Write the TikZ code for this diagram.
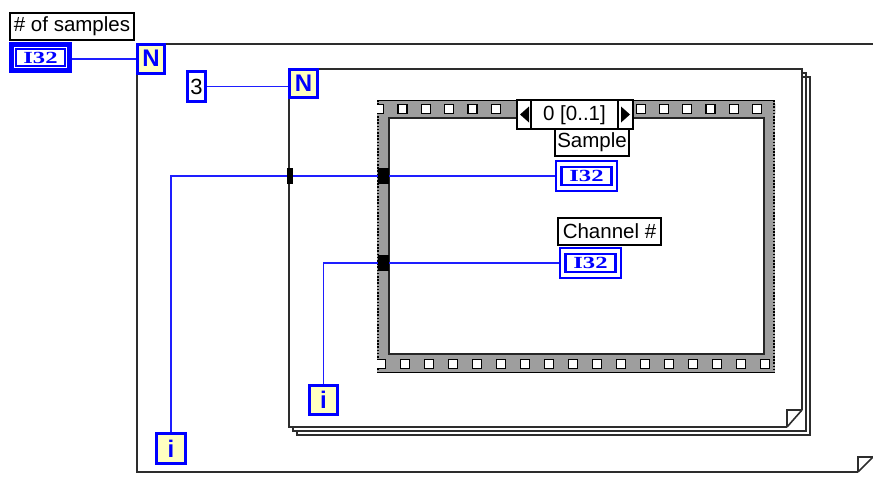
\documentclass[tikz,border=0pt]{standalone}
\usepackage{fontspec}
\setmainfont{Liberation Sans}
\newfontfamily\lvserif{Liberation Serif}
\usetikzlibrary{calc}
\definecolor{lvblue}{RGB}{0,0,255}
\definecolor{wireblue}{RGB}{30,30,255}
\definecolor{lvyellow}{RGB}{255,255,192}
\definecolor{seqgray}{RGB}{158,158,158}
\definecolor{framegray}{RGB}{45,45,45}
\newcommand{\ithreetwo}{\scalebox{1.45}[1]{\fontsize{17}{17}\selectfont\lvserif\bfseries\color{lvblue}I32}}
\begin{document}
\begin{tikzpicture}[x=1pt,y=-1pt,
  lbl/.style={draw=black, line width=1.4, fill=white, inner sep=0, font=\fontsize{20.5}{24}\selectfont},
  term/.style={draw=lvblue, line width=3, fill=lvyellow, inner sep=0, font=\fontsize{24}{26}\selectfont\bfseries\color{lvblue}},
  const/.style={draw=lvblue, line width=3, fill=white, inner sep=0, font=\fontsize{22}{24}\selectfont},
  ctrl/.style={draw=lvblue, line width=5, fill=white, minimum width=58, minimum height=26, inner sep=0,
    path picture={\draw[lvblue,line width=1.5] ([shift={(-24.5,-8.5)}]path picture bounding box.center) rectangle ([shift={(24.5,8.5)}]path picture bounding box.center);}},
  ind/.style={draw=lvblue, line width=1.6, fill=white, minimum width=61.4, minimum height=30.4, inner sep=0,
    path picture={\draw[lvblue,line width=2.5] ([shift={(-25,-9)}]path picture bounding box.center) rectangle ([shift={(25,9)}]path picture bounding box.center);}},
  tunnel/.style={fill=black, draw=none, inner sep=0},
  wire/.style={wireblue, line width=1.5},
  loopframe/.style={framegray, line width=2.4},
  pageframe/.style={framegray, line width=1.6},
  filmsq/.style={fill=white, draw=black, line width=1.3}
]
\useasboundingbox (0,0) rectangle (873,477);
\begin{scope}
\clip (0,0) rectangle (873,477);
% outer for loop
\draw[loopframe] (166,44) -- (880,44);
\draw[loopframe] (874.5,44) -- (874.5,457);
\draw[loopframe] (137,73) -- (137,472) -- (858,472);
\draw[framegray, line width=1.6] (858,472) -- (858,457) -- (874,457);
\draw[framegray, line width=1.6] (858,472) -- (874,456);
% inner for loop (stacked)
\draw[pageframe] (802,77) -- (810,77) -- (810,435) -- (297,435) -- (297,431);
\draw[pageframe] (802,73) -- (806,73) -- (806,431) -- (293,431) -- (293,427);
\draw[loopframe] (319,69) -- (802,69) -- (802,410);
\draw[loopframe] (289,98) -- (289,427) -- (787,427);
\draw[framegray, line width=1.6] (787,427) -- (787,410) -- (802,410);
\draw[framegray, line width=1.6] (787,427) -- (802,410);
\end{scope}
% sequence structure
\fill[seqgray] (377,100) rectangle (775,373);
\draw[black, line width=1.2] (377,100.6) -- (775,100.6);
\draw[black, line width=1.2] (377,372.4) -- (775,372.4);
\draw[black, line width=1.5, dash pattern=on 1.6pt off 1.6pt] (378,100) -- (378,373);
\draw[black, line width=1.5, dash pattern=on 1.6pt off 1.6pt] (774,100) -- (774,373);
\begin{scope}
\clip (377,100) rectangle (775,373);
\foreach \x in {379,402.5,426,449,472.5,496,641,664,687,710.5,734,757,780}
  \draw[filmsq] (\x-4.5,104.5) rectangle (\x+4.5,113.5);
\foreach \x in {381,405,429,453,477,501,525,549,573,597,621,645,669,693,717,741,765}
  \draw[filmsq] (\x-4.5,359.5) rectangle (\x+4.5,368.5);
\end{scope}
\draw[fill=white, draw=black!85, line width=1.5] (389,118) rectangle (764,354);
% selector
\node[draw=black, line width=1.2, fill=white, minimum width=116, minimum height=29, inner sep=0] (sel) at (575,114.5) {};
\draw[black, line width=1.2] (531,100) -- (531,129);
\draw[black, line width=1.2] (618,100) -- (618,129);
\fill[black] (520,114.5) -- (529,106.5) -- (529,122.5) -- cycle;
\fill[black] (630,114.5) -- (621,106.5) -- (621,122.5) -- cycle;
\node[font=\fontsize{20.5}{24}\selectfont, inner sep=0] (seltxt) at (574.5,115) {0 [0..1]};
% labels
\node[lbl, minimum width=124, minimum height=27] (lblNum) at (72,26.5) {\# of samples};
\node[lbl, minimum width=74, minimum height=27] (lblSample) at (592,142.5) {Sample};
\node[lbl, minimum width=103, minimum height=27] (lblChan) at (609.5,231.5) {Channel \#};
% controls / indicators
\node[ctrl] (numCtrl) at (40.5,57.5) {\ithreetwo};
\node[ind] (sampleInd) at (586.5,176) {\ithreetwo};
\node[ind] (chanInd) at (590.5,263) {\ithreetwo};
% terminals
\node[term, minimum width=27, minimum height=29] (outerN) at (151,58.5) {N};
\node[term, minimum width=28, minimum height=28] (innerN) at (303.5,83.5) {N};
\node[const, minimum width=18, minimum height=30] (three) at (196.5,86.5) {3};
\node[term, minimum width=29, minimum height=30] (outerI) at (171,448.5) {i};
\node[term, minimum width=28, minimum height=29] (innerI) at (323.5,400) {i};
% tunnels
\node[tunnel, minimum width=6, minimum height=16] (tunInner) at (290,176) {};
\node[tunnel, minimum width=11, minimum height=16] (tunSeqA) at (383.5,176) {};
\node[tunnel, minimum width=11, minimum height=16] (tunSeqB) at (383.5,263) {};
% wires
\draw[wire] (numCtrl.east |- 0,59) -- (outerN.west |- 0,59);
\draw[wire] (three.east) -- (three.east -| innerN.west);
\draw[wire] (outerI.north) |- (tunInner.west);
\draw[wire] (tunInner.east) -- (tunSeqA.west);
\draw[wire] (tunSeqA.east) -- (sampleInd.west);
\draw[wire] (innerI.north) |- (tunSeqB.west);
\draw[wire] (tunSeqB.east) -- (chanInd.west);
\end{tikzpicture}
\end{document}
